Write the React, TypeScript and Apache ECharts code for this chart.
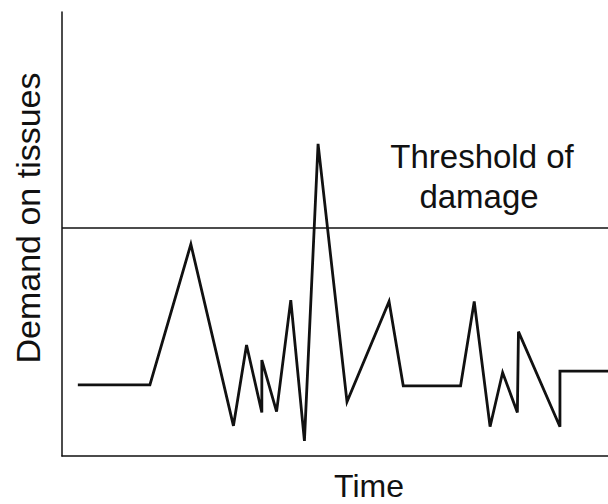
import React, { useEffect, useRef } from "react";
import * as echarts from "echarts";

// Time (arbitrary units, 0–100) and demand on tissues (arbitrary units, 0–100)
const timeValues = [2.9, 16.1, 23.6, 31.4, 33.8, 36.6, 36.6, 39.3, 41.9, 44.4, 46.9, 52.2, 59.9, 62.5, 73.0, 75.5, 78.4, 80.7, 83.4, 83.6, 91.2, 91.2, 100];
const demandValues = [16.0, 16.0, 47.7, 6.8, 25.0, 9.8, 21.6, 10.0, 35.1, 3.4, 70.3, 12.2, 34.8, 15.8, 15.8, 34.8, 6.6, 18.8, 9.8, 28.0, 6.6, 19.1, 19.1];
const thresholdValue = 51.4;

const yAxisTitle = "Demand on tissues";
const xAxisTitle = "Time";
const thresholdLines = ["Threshold of", "damage"];

const FONT = "'Liberation Sans', Arial, Helvetica, sans-serif";
const INK = "#111";

export default function App() {
  const ref = useRef<HTMLDivElement>(null);

  useEffect(() => {
    if (!ref.current) return;
    const chart = echarts.init(ref.current, undefined, { renderer: "svg" });
    const data = timeValues.map((t, i) => [t, demandValues[i]]);

    chart.setOption({
      animation: false,
      backgroundColor: "#fff",
      grid: { left: 62, top: 12, right: 0, bottom: 48 },
      xAxis: {
        type: "value",
        min: 0,
        max: 100,
        axisLine: { show: true, lineStyle: { color: INK, width: 1.5 } },
        axisTick: { show: false },
        axisLabel: { show: false },
        splitLine: { show: false },
      },
      yAxis: {
        type: "value",
        min: 0,
        max: 100,
        axisLine: { show: true, lineStyle: { color: INK, width: 1.5 } },
        axisTick: { show: false },
        axisLabel: { show: false },
        splitLine: { show: false },
      },
      series: [
        {
          type: "line",
          data,
          showSymbol: false,
          symbol: "none",
          lineStyle: { color: INK, width: 2.8, join: "miter" },
          markLine: {
            silent: true,
            symbol: "none",
            label: { show: false },
            lineStyle: { color: INK, width: 1.5, type: "solid" },
            data: [{ yAxis: thresholdValue }],
          },
        },
      ],
      graphic: [
        {
          type: "text",
          x: 28,
          y: 218,
          rotation: Math.PI / 2,
          style: {
            text: yAxisTitle,
            font: `34px ${FONT}`,
            fill: INK,
            align: "center",
            verticalAlign: "middle",
          },
        },
        {
          type: "text",
          x: 369,
          y: 486,
          style: {
            text: xAxisTitle,
            font: `32px ${FONT}`,
            fill: INK,
            align: "center",
            verticalAlign: "middle",
          },
        },
        {
          type: "text",
          x: 482,
          y: 156,
          style: {
            text: thresholdLines[0],
            font: `33px ${FONT}`,
            fill: INK,
            align: "center",
            verticalAlign: "middle",
          },
        },
        {
          type: "text",
          x: 479,
          y: 196,
          style: {
            text: thresholdLines[1],
            font: `33px ${FONT}`,
            fill: INK,
            align: "center",
            verticalAlign: "middle",
          },
        },
      ],
    });

    return () => chart.dispose();
  }, []);

  return (
    <div
      ref={ref}
      style={{ position: "fixed", left: 0, top: 0, width: 608, height: 504 }}
    />
  );
}
